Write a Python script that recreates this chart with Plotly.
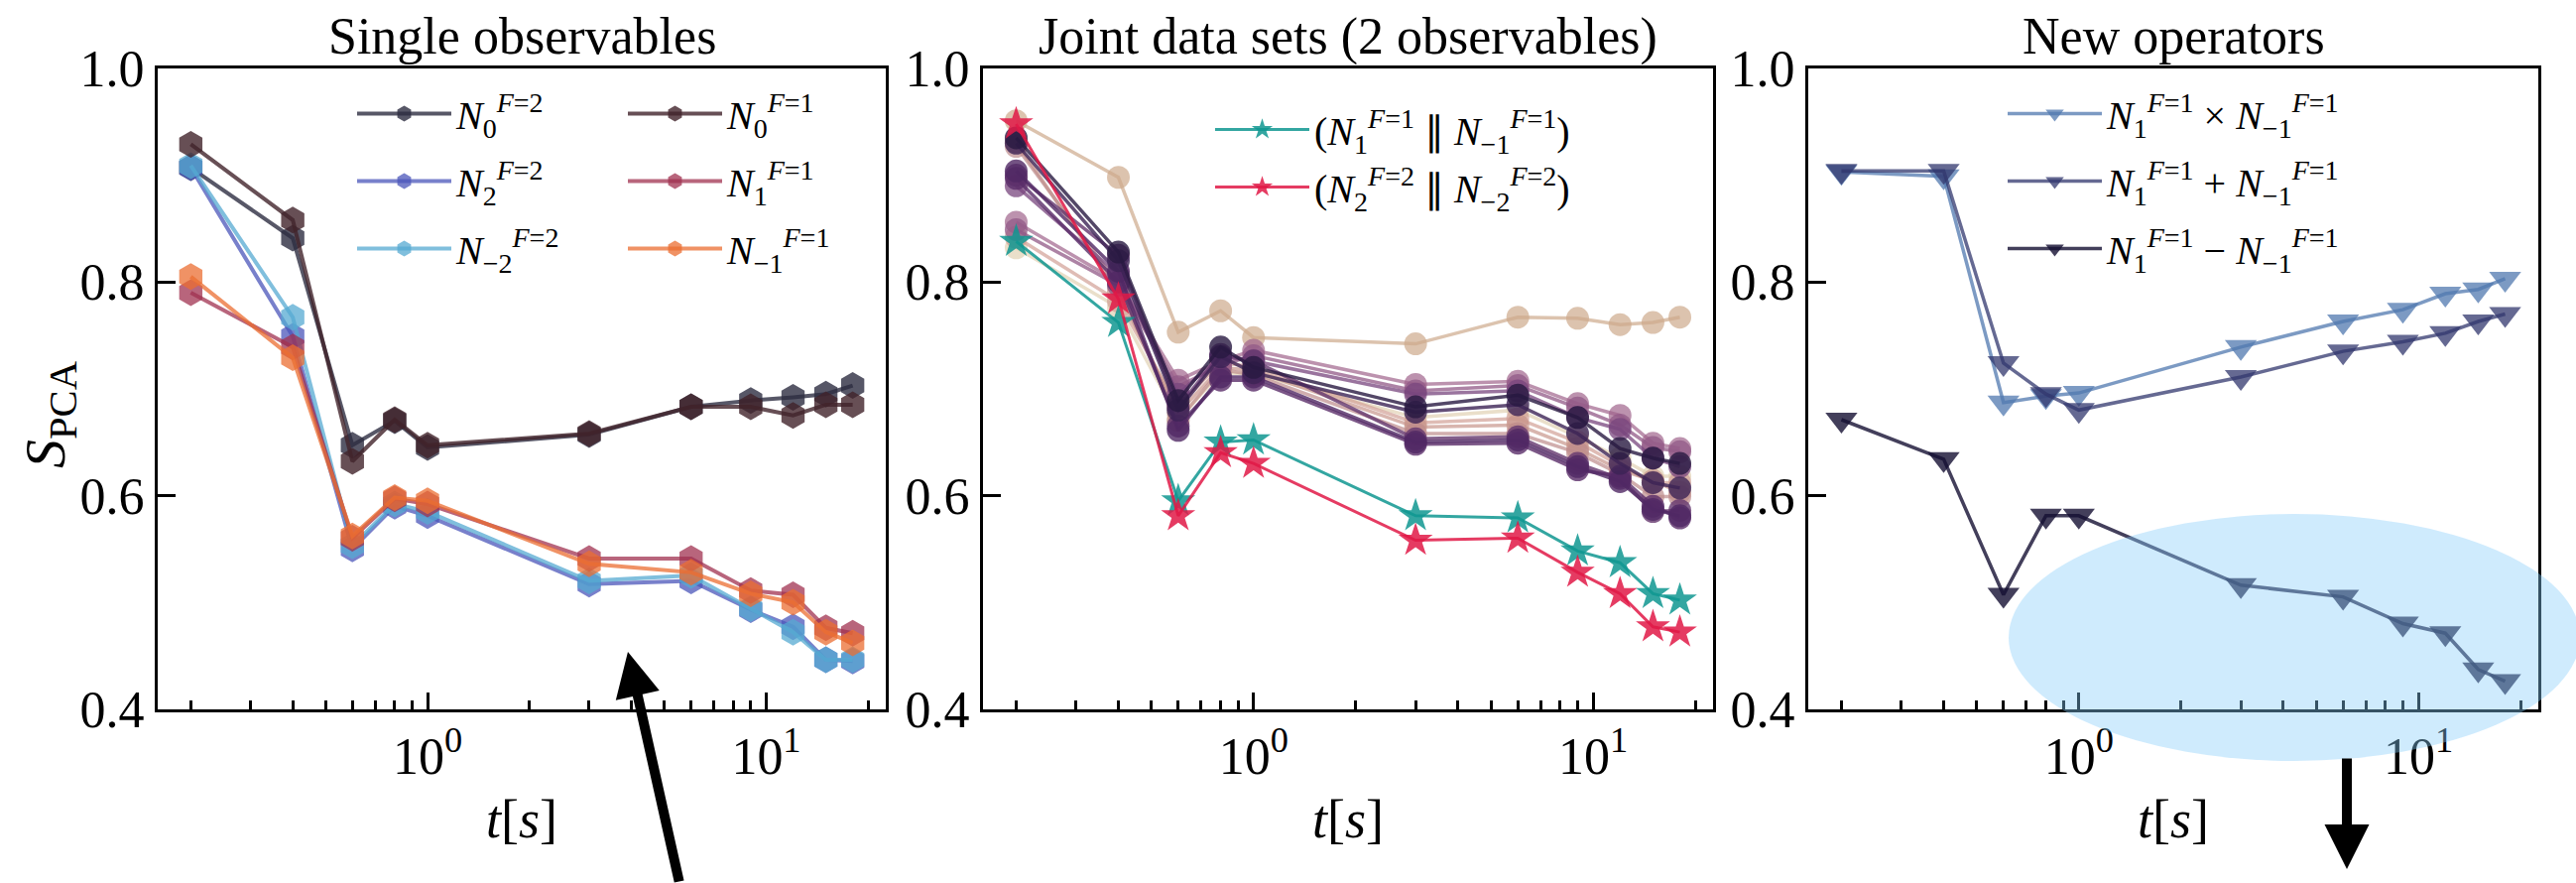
import numpy as np
import plotly.graph_objects as go

W, H = 2597, 890
FONT = "Liberation Serif"

# Evolution times (s)
t = [0.2, 0.4, 0.6, 0.8, 1.0, 3.0, 6.0, 9.0, 12.0, 15.0, 18.0]

# --- Single observables: S_PCA per observable ---
n0_f2 = [0.907, 0.841, 0.647, 0.670, 0.645, 0.657, 0.683, 0.689, 0.692, 0.695, 0.703]
n2_f2 = [0.907, 0.749, 0.550, 0.590, 0.581, 0.517, 0.520, 0.493, 0.477, 0.446, 0.445]
nm2_f2 = [0.909, 0.767, 0.553, 0.592, 0.585, 0.520, 0.525, 0.494, 0.472, 0.446, 0.446]
n0_f1 = [0.929, 0.858, 0.632, 0.671, 0.647, 0.658, 0.683, 0.683, 0.675, 0.685, 0.685]
n1_f1 = [0.790, 0.739, 0.560, 0.597, 0.592, 0.541, 0.541, 0.511, 0.507, 0.476, 0.471]
nm1_f1 = [0.805, 0.729, 0.562, 0.598, 0.595, 0.536, 0.528, 0.508, 0.500, 0.472, 0.462]

# --- Joint data sets (pairs of observables) ---
pair_a = [0.951, 0.898, 0.753, 0.773, 0.748, 0.742, 0.767, 0.766, 0.760, 0.762, 0.767]
pair_b = [0.935, 0.828, 0.689, 0.739, 0.720, 0.683, 0.694, 0.673, 0.644, 0.635, 0.630]
pair_c = [0.930, 0.820, 0.680, 0.730, 0.715, 0.678, 0.685, 0.658, 0.630, 0.612, 0.607]
pair_d = [0.904, 0.810, 0.661, 0.711, 0.711, 0.650, 0.652, 0.627, 0.613, 0.587, 0.581]
pair_e = [0.897, 0.800, 0.665, 0.708, 0.708, 0.648, 0.649, 0.624, 0.618, 0.590, 0.579]
pair_f = [0.856, 0.800, 0.708, 0.726, 0.736, 0.704, 0.707, 0.686, 0.675, 0.649, 0.644]
pair_g = [0.849, 0.797, 0.702, 0.722, 0.731, 0.698, 0.703, 0.682, 0.666, 0.645, 0.641]
pair_h = [0.890, 0.807, 0.695, 0.730, 0.726, 0.695, 0.698, 0.673, 0.662, 0.635, 0.627]
pair_i = [0.931, 0.791, 0.677, 0.720, 0.717, 0.664, 0.666, 0.644, 0.624, 0.614, 0.603]
pair_j = [0.832, 0.776, 0.671, 0.715, 0.714, 0.673, 0.680, 0.655, 0.635, 0.618, 0.618]
pair_k = [0.842, 0.782, 0.683, 0.725, 0.720, 0.668, 0.672, 0.650, 0.628, 0.612, 0.612]
pair_l = [0.927, 0.797, 0.670, 0.718, 0.713, 0.658, 0.658, 0.640, 0.620, 0.599, 0.599]
pair_m = [0.900, 0.825, 0.683, 0.732, 0.726, 0.653, 0.655, 0.630, 0.616, 0.585, 0.586]
pair_f1 = [0.838, 0.762, 0.595, 0.650, 0.652, 0.581, 0.579, 0.548, 0.537, 0.508, 0.502]
pair_f2 = [0.948, 0.784, 0.581, 0.640, 0.630, 0.558, 0.560, 0.528, 0.508, 0.477, 0.472]

# --- New operators built from N_{+1} and N_{-1} (F=1) ---
op_prod = [0.903, 0.899, 0.687, 0.693, 0.696, 0.739, 0.763, 0.774, 0.789, 0.793, 0.803]
op_sum = [0.904, 0.904, 0.724, 0.695, 0.680, 0.711, 0.735, 0.744, 0.752, 0.763, 0.770]
op_diff = [0.671, 0.634, 0.507, 0.581, 0.581, 0.516, 0.505, 0.480, 0.471, 0.437, 0.426]


def lab(sub, sup):
    return f"<i>N</i><sub>{sub}</sub><sup><i>F</i>={sup}</sup>"


fig = go.Figure()
_count = [0]


def series(y, name, color, symbol, size, lw, ax, legend=None):
    _count[0] += 1
    fig.add_trace(go.Scatter(
        x=t, y=y, name=name, mode="lines+markers",
        line=dict(color=color, width=lw),
        marker=dict(symbol=symbol, size=size, color=color, line=dict(width=0)),
        xaxis="x" + ax, yaxis="y" + ax,
        showlegend=legend is not None,
        legend=legend if legend else "legend",
        legendgroup=f"g{_count[0]}",
    ))


# Panel 1 (two legend columns)
HEX = 27
series(n0_f2, lab("0", "2"), "rgba(45,45,65,0.8)", "hexagon", HEX, 4, "", "legend")
series(n2_f2, lab("2", "2"), "rgba(75,85,185,0.75)", "hexagon", HEX, 4, "", "legend")
series(nm2_f2, lab("−2", "2"), "rgba(85,170,210,0.75)", "hexagon", HEX, 4, "", "legend")
series(n0_f1, lab("0", "1"), "rgba(65,35,42,0.8)", "hexagon", HEX, 4, "", "legend4")
series(n1_f1, lab("1", "1"), "rgba(160,50,80,0.75)", "hexagon", HEX, 4, "", "legend4")
series(nm1_f1, lab("−1", "1"), "rgba(235,110,50,0.75)", "hexagon", HEX, 4, "", "legend4")

# Panel 2: background pairs then highlighted pairs
pairs = [
    (pair_j, "rgba(225,210,180,0.7)"),
    (pair_a, "rgba(205,170,140,0.7)"),
    (pair_k, "rgba(210,160,150,0.7)"),
    (pair_i, "rgba(200,150,140,0.7)"),
    (pair_l, "rgba(190,140,140,0.7)"),
    (pair_f, "rgba(160,100,140,0.7)"),
    (pair_g, "rgba(145,90,135,0.75)"),
    (pair_h, "rgba(120,70,125,0.75)"),
    (pair_m, "rgba(100,55,110,0.8)"),
    (pair_e, "rgba(90,45,105,0.8)"),
    (pair_d, "rgba(80,40,100,0.8)"),
    (pair_c, "rgba(60,35,85,0.8)"),
    (pair_b, "rgba(40,25,65,0.8)"),
]
for y, c in pairs:
    series(y, "pair", c, "circle", 23, 3.5, "2")
series(pair_f1, f"({lab('1', '1')} ∥ {lab('−1', '1')})", "rgba(15,150,145,0.85)", "star", 26, 3, "2", "legend2")
series(pair_f2, f"({lab('2', '2')} ∥ {lab('−2', '2')})", "rgba(225,25,70,0.85)", "star", 26, 3, "2", "legend2")

# Panel 3
TRI = 28
series(op_prod, f"{lab('1', '1')} × {lab('−1', '1')}", "rgba(80,120,175,0.75)", "triangle-down", TRI, 3.5, "3", "legend3")
series(op_sum, f"{lab('1', '1')} + {lab('−1', '1')}", "rgba(50,55,110,0.75)", "triangle-down", TRI, 3.5, "3", "legend3")
series(op_diff, f"{lab('1', '1')} − {lab('−1', '1')}", "rgba(20,15,50,0.8)", "triangle-down", TRI, 3.5, "3", "legend3")

# Axes layout (pixel boxes converted to paper fractions)
panels = [(159, 893), (991, 1727), (1823, 2559)]
top_px, bot_px = 69, 714.6
ydom = [1 - bot_px / H, 1 - top_px / H]
lo = np.log10(0.2) - 0.0977
hi = np.log10(18) + 0.0977
minor_vals = [0.2, 0.3, 0.4, 0.5, 0.6, 0.7, 0.8, 0.9, 2, 3, 4, 5, 6, 7, 8, 9, 20]
tickfont = dict(family=FONT, size=52, color="black")

for i, (x0, x1) in enumerate(panels):
    suf = "" if i == 0 else str(i + 1)
    fig.layout["xaxis" + suf] = dict(
        type="log", domain=[x0 / W, x1 / W], anchor="y" + suf, range=[lo, hi],
        tickvals=[1, 10], ticktext=["10<sup>0</sup>", "10<sup>1</sup>"],
        ticks="inside", ticklen=17, tickwidth=3, tickcolor="black",
        showline=True, linewidth=3, linecolor="black", mirror=True,
        showgrid=False, zeroline=False, tickfont=tickfont, automargin=False,
        minor=dict(tickvals=minor_vals, ticks="inside", ticklen=9, tickwidth=2.5,
                   tickcolor="black", showgrid=False),
    )
    fig.layout["yaxis" + suf] = dict(
        domain=ydom, anchor="x" + suf, range=[0.4, 1.0],
        tickvals=[0.4, 0.6, 0.8, 1.0], ticktext=["0.4", "0.6", "0.8", "1.0"],
        ticks="inside", ticklen=18, tickwidth=3, tickcolor="black",
        showline=True, linewidth=3, linecolor="black", mirror=True,
        showgrid=False, zeroline=False, tickfont=tickfont, automargin=False,
    )

legfont = dict(family=FONT, size=40, color="black")


def legend_box(x_px, y_px, gap=13):
    return dict(x=x_px / W, y=1 - y_px / H, xanchor="left", yanchor="top",
                font=legfont, bgcolor="rgba(0,0,0,0)", itemwidth=95,
                tracegroupgap=gap, itemclick=False, itemdoubleclick=False)


fig.update_layout(
    width=W, height=H, autosize=False,
    margin=dict(l=0, r=0, t=0, b=0),
    paper_bgcolor="white", plot_bgcolor="white",
    font=dict(family=FONT, color="black"),
    legend=legend_box(355, 82),
    legend4=legend_box(628, 82),
    legend2=legend_box(1220, 98, gap=3),
    legend3=legend_box(2019, 82),
)

titles = ["Single observables", "Joint data sets (2 observables)", "New operators"]
ann = []
for (x0, x1), ttl in zip(panels, titles):
    cx = (x0 + x1) / 2 / W
    ann.append(dict(text=ttl, x=cx, y=1 - 37 / H, xref="paper", yref="paper",
                    xanchor="center", yanchor="middle", showarrow=False,
                    font=dict(family=FONT, size=52, color="black")))
    ann.append(dict(text="<i>t</i>[<i>s</i>]", x=cx, y=1 - 826 / H, xref="paper", yref="paper",
                    xanchor="center", yanchor="middle", showarrow=False,
                    font=dict(family=FONT, size=54, color="black")))
ann.append(dict(text="<i>S</i><sub>PCA</sub>", x=50 / W, y=1 - 418 / H, xref="paper", yref="paper",
                xanchor="center", yanchor="middle", showarrow=False, textangle=-90,
                font=dict(family=FONT, size=58, color="black")))
# Pointer arrows
ann.append(dict(text="", x=633 / W, y=1 - 657 / H, xref="paper", yref="paper",
                showarrow=True, ax=52, ay=253, axref="pixel", ayref="pixel",
                arrowhead=2, arrowwidth=10, arrowsize=0.9, arrowcolor="black"))
ann.append(dict(text="", x=2366 / W, y=1 - 876 / H, xref="paper", yref="paper",
                showarrow=True, ax=0, ay=-113, axref="pixel", ayref="pixel",
                arrowhead=2, arrowwidth=10, arrowsize=0.9, arrowcolor="black"))
fig.update_layout(annotations=ann)

# Highlight region over the late-time tail of the difference operator
fig.add_shape(type="circle", xref="paper", yref="paper",
              x0=2025 / W, x1=2601 / W, y0=1 - 767 / H, y1=1 - 518 / H,
              fillcolor="rgba(135,206,250,0.4)", line=dict(width=0), layer="above")

fig.write_html("out.html")
